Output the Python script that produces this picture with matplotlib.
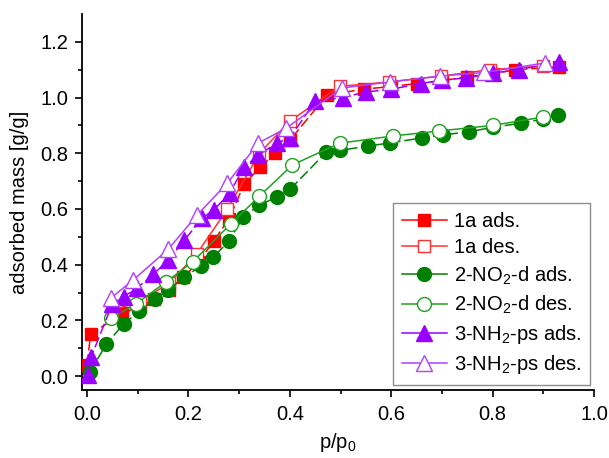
import matplotlib
matplotlib.use("Agg")
import matplotlib.pyplot as plt
from matplotlib.lines import Line2D

plt.rcParams['font.family'] = ['Liberation Sans', 'DejaVu Sans']
plt.rcParams['mathtext.default'] = 'regular'

# 1a
a1_ads_x = [0.0, 0.007, 0.069, 0.105, 0.132, 0.162, 0.19, 0.22, 0.25, 0.28, 0.31, 0.342, 0.37, 0.40, 0.474, 0.547, 0.60, 0.65, 0.70, 0.75, 0.80, 0.845, 0.93]
a1_ads_y = [0.04, 0.15, 0.225, 0.25, 0.275, 0.31, 0.355, 0.41, 0.485, 0.565, 0.69, 0.75, 0.80, 0.847, 1.01, 1.03, 1.04, 1.05, 1.06, 1.075, 1.085, 1.10, 1.11]
a1_des_x = [0.90, 0.795, 0.698, 0.595, 0.498, 0.40, 0.34, 0.277, 0.217, 0.162, 0.105, 0.05]
a1_des_y = [1.113, 1.10, 1.077, 1.056, 1.04, 0.915, 0.80, 0.60, 0.44, 0.333, 0.27, 0.235]

# 2-NO2-d
b2_ads_x = [0.006, 0.038, 0.072, 0.103, 0.134, 0.16, 0.192, 0.225, 0.249, 0.28, 0.308, 0.34, 0.375, 0.40, 0.472, 0.498, 0.555, 0.597, 0.66, 0.703, 0.753, 0.80, 0.856, 0.90, 0.929]
b2_ads_y = [0.015, 0.115, 0.187, 0.233, 0.277, 0.309, 0.355, 0.396, 0.427, 0.485, 0.571, 0.614, 0.643, 0.67, 0.804, 0.81, 0.826, 0.837, 0.855, 0.866, 0.877, 0.893, 0.908, 0.923, 0.937]
b2_des_x = [0.90, 0.80, 0.694, 0.603, 0.498, 0.405, 0.34, 0.283, 0.208, 0.156, 0.097, 0.047]
b2_des_y = [0.93, 0.90, 0.88, 0.862, 0.836, 0.758, 0.646, 0.545, 0.41, 0.338, 0.26, 0.208]

# 3-NH2-ps
c3_ads_x = [0.002, 0.008, 0.05, 0.072, 0.098, 0.131, 0.16, 0.192, 0.227, 0.251, 0.281, 0.31, 0.338, 0.375, 0.40, 0.45, 0.504, 0.55, 0.60, 0.658, 0.70, 0.747, 0.80, 0.852, 0.93]
c3_ads_y = [0.003, 0.068, 0.26, 0.285, 0.315, 0.366, 0.416, 0.488, 0.567, 0.598, 0.657, 0.75, 0.794, 0.837, 0.855, 0.987, 1.00, 1.02, 1.03, 1.05, 1.063, 1.07, 1.088, 1.10, 1.128]
c3_des_x = [0.903, 0.783, 0.696, 0.597, 0.502, 0.393, 0.338, 0.277, 0.217, 0.16, 0.091, 0.047]
c3_des_y = [1.124, 1.09, 1.077, 1.056, 1.034, 0.89, 0.837, 0.693, 0.578, 0.455, 0.345, 0.28]

labels = ['1a ads.', '1a des.', '2-NO$_2$-d ads.', '2-NO$_2$-d des.',
          '3-NH$_2$-ps ads.', '3-NH$_2$-ps des.']

fig = plt.figure(figsize=(6.09, 4.58), dpi=100)
ax = fig.add_axes([82/609, 1-390/458, (594-82)/609, (390-14)/458])

red = '#FF0000'
green = '#008000'
purple = '#9900FF'
purple_l = '#B040FF'
red_l = '#FF3030'
green_l = '#20A020'

ms = 9
dash = (0, (7, 2.5))
styles = [
    dict(color=red, marker='s', ms=ms, mfc=red, mec=red),
    dict(color=red_l, marker='s', ms=ms, mfc='white', mec=red_l),
    dict(color=green, marker='o', ms=ms + 1, mfc=green, mec=green),
    dict(color=green_l, marker='o', ms=ms + 1, mfc='white', mec=green_l),
    dict(color=purple, marker='^', ms=ms + 2, mfc=purple, mec=purple),
    dict(color=purple_l, marker='^', ms=ms + 2, mfc='white', mec=purple_l),
]
series = [(a1_ads_x, a1_ads_y), (a1_des_x, a1_des_y),
          (b2_ads_x, b2_ads_y), (b2_des_x, b2_des_y),
          (c3_ads_x, c3_ads_y), (c3_des_x, c3_des_y)]

for i, ((xs, ys), st) in enumerate(zip(series, styles)):
    ls = dash if i % 2 == 0 else '-'
    ax.plot(xs, ys, lw=1.1, ls=ls, zorder=3, **st)

handles = [Line2D([], [], lw=1.1, ls='-', **st) for st in styles]

ax.set_xlim(-0.01, 1.0)
ax.set_ylim(-0.05, 1.3)
ax.set_xticks([0.0, 0.2, 0.4, 0.6, 0.8, 1.0])
ax.set_yticks([0.0, 0.2, 0.4, 0.6, 0.8, 1.0, 1.2])
ax.set_xticks([0.1, 0.3, 0.5, 0.7, 0.9], minor=True)
ax.set_yticks([0.1, 0.3, 0.5, 0.7, 0.9, 1.1], minor=True)
ax.xaxis.set_major_formatter(matplotlib.ticker.FormatStrFormatter('%.1f'))
ax.yaxis.set_major_formatter(matplotlib.ticker.FormatStrFormatter('%.1f'))
ax.tick_params(which='major', direction='out', length=5, width=1.2, labelsize=14.5, colors='black')
ax.tick_params(which='minor', direction='out', length=3, width=1.2)
ax.tick_params(axis='x', pad=6)
ax.tick_params(axis='y', pad=5)
for s in ['top', 'right']:
    ax.spines[s].set_visible(False)
for s in ['left', 'bottom']:
    ax.spines[s].set_linewidth(1.3)

ax.set_xlabel('p/p$_0$', fontsize=14.5, labelpad=5)
ax.set_ylabel('adsorbed mass [g/g]', fontsize=14.5, labelpad=8)

leg = ax.legend(handles, labels, loc='lower right', bbox_to_anchor=(0.992, 0.013), borderaxespad=0,
                fontsize=14.5, frameon=True, fancybox=False, edgecolor='#707070',
                handlelength=2.2, handletextpad=0.35, labelspacing=0.35, borderpad=0.45)
leg.get_frame().set_linewidth(1.0)

fig.savefig('out.png', dpi=100)
